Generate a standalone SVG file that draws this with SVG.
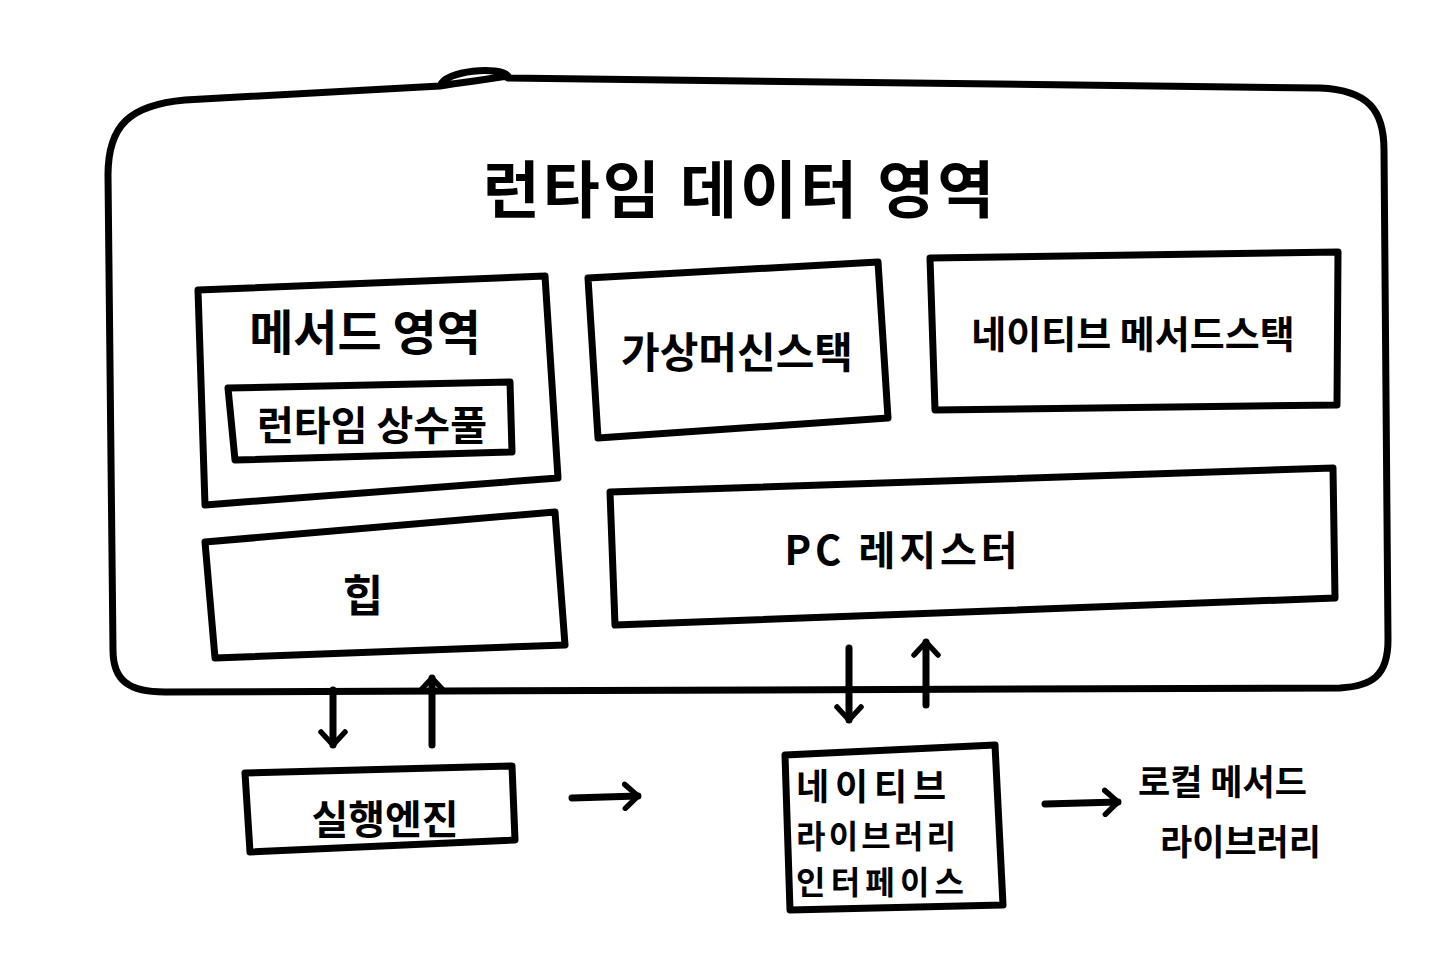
<svg xmlns="http://www.w3.org/2000/svg" width="1440" height="956" viewBox="0 0 1440 956">
<defs>
<style>
.s{fill:none;stroke:#000;stroke-width:7;stroke-linecap:round;stroke-linejoin:round}
.t{font-family:"Noto Sans CJK KR","Noto Sans",sans-serif;font-weight:700;fill:#000}
.m{text-anchor:middle}
</style>
<marker id="ah" viewBox="0 0 30 30" refX="16" refY="15" markerWidth="30" markerHeight="30" markerUnits="userSpaceOnUse" orient="auto">
<path d="M3,3 L16,15 L3,27" fill="none" stroke="#000" stroke-width="5.5" stroke-linecap="round" stroke-linejoin="round"/>
</marker>
</defs>
<rect width="1440" height="956" fill="#fff"/>
<g id="runtime-data-area">
<path class="s" d="M440,86 C445,70 500,66 508,76 C470,82 450,84 440,86 M508,78 L1320,88 C1368,90 1384,110 1384,150 L1388,640 C1388,676 1372,686 1340,688 L165,692 C128,692 113,680 113,650 L108,175 C108,125 130,105 185,100 L440,86"/>
<text class="t m" x="740" y="213" font-size="62" letter-spacing="3">런타임 데이터 영역</text>
</g>
<g id="method-area">
<path class="s" d="M198,290 L545,276 L558,478 L205,505 Z"/>
<text class="t m" x="365" y="350" font-size="48">메서드 영역</text>
</g>
<g id="runtime-constant-pool">
<path class="s" d="M228,388 L510,382 L512,452 L235,460 Z"/>
<text class="t m" x="372" y="440" font-size="40">런타임 상수풀</text>
</g>
<g id="vm-stack">
<path class="s" d="M588,278 L878,262 L888,418 L598,438 Z"/>
<text class="t m" x="737" y="368" font-size="42">가상머신스택</text>
</g>
<g id="native-method-stack">
<path class="s" d="M930,258 L1338,252 L1337,405 L935,410 Z"/>
<text class="t m" x="1133" y="348" font-size="38">네이티브 메서드스택</text>
</g>
<g id="pc-register">
<path class="s" d="M610,492 L1333,468 L1335,598 L615,625 Z"/>
<text class="t m" x="903" y="565" font-size="40" letter-spacing="4">PC 레지스터</text>
</g>
<g id="heap">
<path class="s" d="M205,542 L555,512 L565,645 L215,658 Z"/>
<text class="t m" x="363" y="612" font-size="44">힙</text>
</g>
<g id="execution-engine">
<path class="s" d="M245,773 L512,766 L515,840 L250,852 Z"/>
<text class="t m" x="385" y="834" font-size="40">실행엔진</text>
</g>
<g id="jni">
<path class="s" d="M785,755 L995,745 L1003,905 L790,910 Z"/>
<text class="t" x="796" y="800" font-size="36" textLength="150">네이티브</text>
<text class="t" x="796" y="848" font-size="32" textLength="160">라이브러리</text>
<text class="t" x="796" y="894" font-size="32" textLength="168">인터페이스</text>
</g>
<g id="native-method-library">
<text class="t" x="1138" y="795" font-size="35">로컬 메서드</text>
<text class="t" x="1160" y="855" font-size="35">라이브러리</text>
</g>
<g id="connectors">
<path class="s" d="M333,690 L333,745" marker-end="url(#ah)"/>
<path class="s" d="M432,745 L432,678" marker-end="url(#ah)"/>
<path class="s" d="M849,648 L849,720" marker-end="url(#ah)"/>
<path class="s" d="M926,705 L926,642" marker-end="url(#ah)"/>
<path class="s" d="M572,798 L638,796" marker-end="url(#ah)"/>
<path class="s" d="M1045,804 L1118,802" marker-end="url(#ah)"/>
</g>
</svg>
